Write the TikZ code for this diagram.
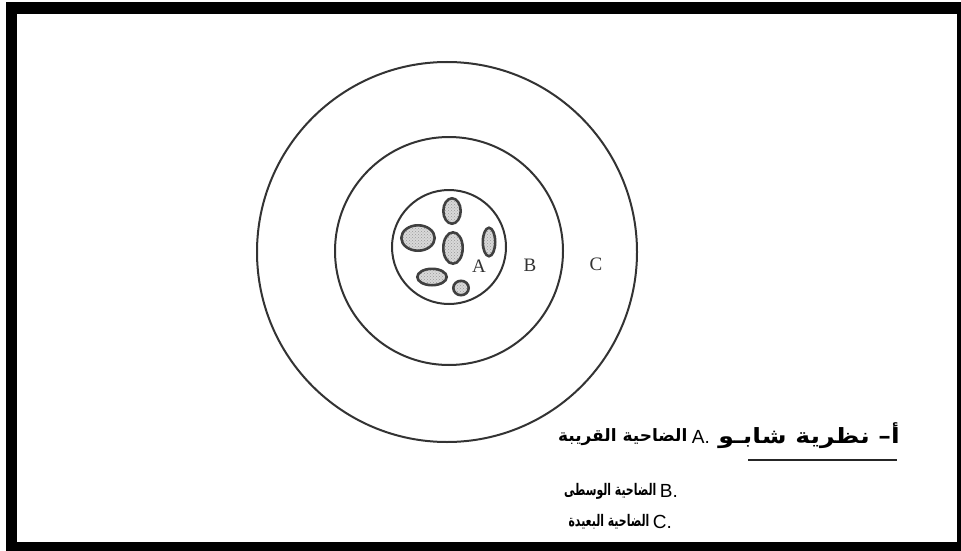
\documentclass[tikz,border=0pt]{standalone}
\usepackage{fontspec}
\TeXXeTstate=1
\setmainfont{Liberation Serif}
\newfontfamily\legendfont{Liberation Sans}
\newfontfamily\arabicfont[Script=Arabic, FakeStretch=0.68]{DejaVu Sans}
\newfontfamily\arabicmid[Script=Arabic]{DejaVu Sans}
\newfontfamily\arabicwide[Script=Arabic, FakeStretch=1.2]{DejaVu Sans}
\usetikzlibrary{patterns, positioning}

\begin{document}
\begin{tikzpicture}[x=1pt, y=-1pt,
  ring/.style={draw=black!80, line width=2pt},
  blob/.style={draw=black!75, line width=2.6pt, preaction={fill=gray!30},
               pattern=crosshatch dots, pattern color=gray!80},
  zone/.style={font=\fontsize{19}{22}\selectfont, text=black!80},
  lettre/.style={anchor=east, inner sep=0pt, font=\fontsize{19}{22}\selectfont\legendfont},
  arabe/.style={inner sep=0pt, font=\fontsize{16}{19}\selectfont\bfseries\arabicfont},
  arabeA/.style={inner sep=0pt, font=\fontsize{17}{20}\selectfont\bfseries\arabicmid},
  titre/.style={anchor=east, inner sep=0pt, font=\fontsize{21}{25}\selectfont\bfseries\arabicwide}
]
  \useasboundingbox (0,0) rectangle (961,551);

  % --- cadre ---
  \fill[black] (6,2) rectangle (961,551);
  \fill[white] (17,14) rectangle (957,542);

  % --- cercles ---
  \draw[ring] (447,252) circle[radius=190];
  \draw[ring] (449,251) circle[radius=114];
  \draw[ring] (449,247) circle[radius=57];

  % --- noyaux ---
  \draw[blob] (452,211) ellipse[x radius=8.7, y radius=12.7];
  \draw[blob] (418,238) ellipse[x radius=16.7, y radius=12.7];
  \draw[blob] (453,248) ellipse[x radius=9.7, y radius=15.7];
  \draw[blob] (489,242) ellipse[x radius=6.2, y radius=14.2];
  \draw[blob] (432,277) ellipse[x radius=14.7, y radius=8.2];
  \draw[blob] (461,288) ellipse[x radius=7.7, y radius=7.2];

  % --- zones ---
  \node[zone] (zA) at (479,266) {A};
  \node[zone] (zB) at (530,265) {B};
  \node[zone] (zC) at (596,264) {C};

  % --- titre et legende ---
  \node[titre] (titre) at (900,436) {\beginR أ– نظرية شابـو\endR};
  \coordinate (soulG) at (748,460);
  \coordinate (soulD) at (897,460);
  \draw[line width=2pt, black!85] (soulG) -- (soulD);

  \node[lettre] (lA) at (710,437) {A.};
  \node[arabeA, left=4pt of lA] (tA) {\beginR الضاحية القريبة\endR};

  \node[lettre] (lB) at (678,491) {B.};
  \node[arabe, left=3pt of lB] (tB) {\beginR الضاحية الوسطى\endR};

  \node[lettre] (lC) at (672,522) {C.};
  \node[arabe, left=3pt of lC] (tC) {\beginR الضاحية البعيدة\endR};
\end{tikzpicture}
\end{document}
